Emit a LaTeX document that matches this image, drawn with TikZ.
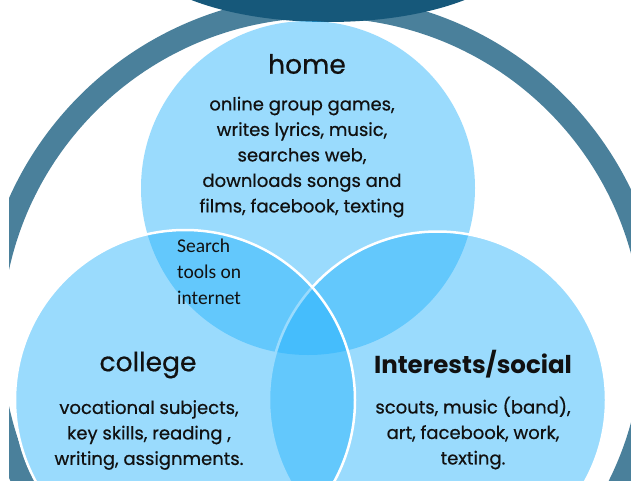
\documentclass[tikz,border=0pt]{standalone}
\usepackage{fontspec}
\setmainfont{Poppins}
\newfontfamily\pmed{Poppins}[FakeBold=0.6]
\newfontfamily\calib{Carlito}
\definecolor{ringc}{HTML}{4A809B}
\definecolor{topc}{HTML}{16587A}
\definecolor{vennc}{RGB}{33,177,252}
\definecolor{txt}{HTML}{111111}
\begin{document}
\begin{tikzpicture}[x=1pt,y=-1pt,
  venn/.style={fill=vennc,fill opacity=0.45},
  vennline/.style={draw=white,line width=2.5pt},
  title/.style={font=\pmed\fontsize{26.5}{30}\selectfont,text=txt,inner sep=0},
  boldtitle/.style={font=\fontsize{24.5}{30}\selectfont\bfseries,text=txt,inner sep=0},
  body/.style={font=\pmed\fontsize{18}{25.5}\selectfont,text=txt,align=center,inner sep=0},
  smalltxt/.style={font=\calib\fontsize{19.5}{26}\selectfont,text=txt,align=left,inner sep=0},
]
\useasboundingbox (0,0) rectangle (631,480);
\clip (0,0) rectangle (631,480);
\fill[white] (0,0) rectangle (631,480);
\draw[ringc,line width=22.5pt] (322,338) circle[radius=331.5pt];
\fill[topc] (328,-52) ellipse [x radius=192pt, y radius=74pt];
\fill[white] (0,0) rectangle (9,480);
% home
\fill[venn] (308,188) circle[radius=167pt];
% interests
\fill[venn] (437.5,400) circle[radius=168.5pt];
\draw[vennline] (437.5,400) circle[radius=168.5pt];
% college
\fill[venn] (185,400) circle[radius=170pt];
\draw[vennline] (185,400) circle[radius=170pt];
% texts
\node[title] (hometitle) at (307,64) {home};
\node[body] (homebody) at (302,157) {online group games,\\writes lyrics, music,\\searches web,\\downloads songs and\\films, facebook, texting};
\node[smalltxt,anchor=west] (search) at (177,272) {Search\\tools on\\internet};
\node[title] (collegetitle) at (148,365) {college};
\node[body] (collegebody) at (149,435) {vocational subjects,\\key skills, reading ,\\writing, assignments.};
\node[boldtitle] (intitle) at (473,364) {Interests/social};
\node[body] (inbody) at (473,433) {scouts, music (band),\\art, facebook, work,\\texting.};
\end{tikzpicture}
\end{document}
